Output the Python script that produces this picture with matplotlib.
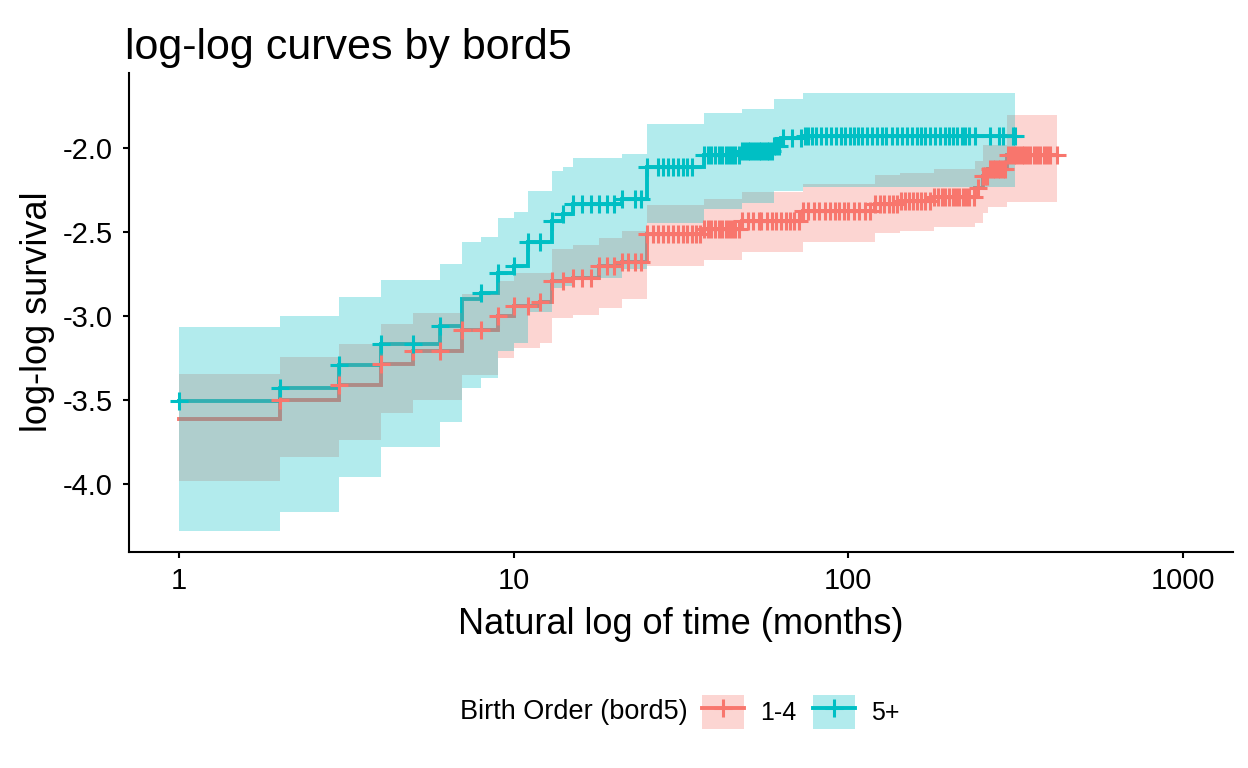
import matplotlib
matplotlib.use('Agg')
import matplotlib.pyplot as plt
import numpy as np
from matplotlib.patches import Patch
from matplotlib.lines import Line2D
from matplotlib.legend_handler import HandlerTuple

plt.rcParams['font.family'] = ['Liberation Sans', 'DejaVu Sans']
plt.rcParams['axes.unicode_minus'] = False

# ---------------- data ----------------
groups = ['1-4', '5+']
colors = ['#F8766D', '#00BFC4']

red_t = [1, 2, 3, 4, 5, 7, 9, 10, 12, 13, 15, 18, 21, 25, 37, 48, 73, 120, 143, 180, 240, 252, 262, 298]
red_est = [-3.613, -3.502, -3.409, -3.282, -3.210, -3.081, -2.998, -2.938, -2.915, -2.790, -2.770, -2.700,
           -2.680, -2.510, -2.478, -2.430, -2.373, -2.329, -2.313, -2.290, -2.234, -2.167, -2.125, -2.038]
red_lo = [-3.980, -3.837, -3.736, -3.577, -3.500, -3.349, -3.250, -3.190, -3.161, -3.008, -2.990, -2.950,
          -2.900, -2.700, -2.665, -2.620, -2.556, -2.502, -2.492, -2.468, -2.443, -2.383, -2.347, -2.319]
red_hi = [-3.345, -3.242, -3.167, -3.048, -2.982, -2.869, -2.790, -2.740, -2.740, -2.601, -2.577, -2.532,
          -2.492, -2.339, -2.304, -2.262, -2.210, -2.161, -2.145, -2.125, -2.075, -1.982, -1.982, -1.804]
red_end = 422
red_cens = [2, 3, 4, 5, 6, 7, 8, 9, 10, 11, 12, 13, 14, 15, 16, 17, 18, 19, 20, 21, 22, 23, 24, 25, 26,
            27, 28, 29, 30, 31, 32, 33, 34, 35, 36, 37, 38, 39, 40, 41, 42, 43, 44, 45, 46, 47, 48, 50,
            52, 54, 55, 57, 59, 61, 63, 65, 67, 69, 71, 73, 76, 79, 82, 85, 88, 91, 94, 97, 100, 104,
            108, 112, 116, 120, 124, 128, 132, 136, 140, 144, 148, 152, 156, 160, 165, 170, 175, 180,
            185, 190, 195, 200, 205, 210, 215, 220, 225, 230, 237, 245, 252, 256, 260, 265, 270, 275,
            280, 285, 290, 295, 300, 306, 312, 318, 324, 330, 336, 342, 350, 358, 366, 374, 384, 392,
            400, 420]

teal_t = [1, 2, 3, 4, 6, 7, 8, 9, 10, 11, 13, 14, 15, 21, 25, 37, 48, 60, 63, 73]
teal_est = [-3.508, -3.425, -3.290, -3.167, -3.058, -2.900, -2.860, -2.740, -2.700, -2.558, -2.433, -2.393,
            -2.333, -2.304, -2.109, -2.038, -2.016, -1.985, -1.940, -1.927]
teal_lo = [-4.278, -4.165, -3.956, -3.778, -3.629, -3.427, -3.369, -3.206, -3.161, -2.974, -2.830, -2.820,
           -2.770, -2.720, -2.443, -2.359, -2.327, -2.254, -2.254, -2.230]
teal_hi = [-3.064, -3.000, -2.887, -2.786, -2.690, -2.560, -2.526, -2.417, -2.379, -2.256, -2.137, -2.111,
           -2.060, -2.036, -1.857, -1.788, -1.764, -1.705, -1.705, -1.673]
teal_end = 315
teal_cens = [1, 2, 3, 4, 5, 6, 8, 9, 10, 11, 12, 13, 14, 15, 16, 17, 18, 19, 20, 21, 23, 24, 25, 27, 28,
             29, 30, 31, 32, 33, 34, 37, 38, 39, 40, 41, 42, 43, 44, 45, 46, 47, 48, 49, 50, 51, 52, 53,
             54, 55, 56, 57, 58, 59, 60, 61, 62, 64, 68, 72, 74, 76, 78, 80, 83, 86, 89, 92, 95, 98, 101,
             104, 107, 110, 114, 118, 122, 126, 130, 135, 140, 145, 150, 155, 160, 165, 170, 176, 182,
             188, 194, 200, 206, 212, 218, 224, 230, 240, 265, 282, 290, 311, 315]

x_ticks = [1, 10, 100, 1000]
x_ticklabels = ['1', '10', '100', '1000']
y_ticks = [-4.0, -3.5, -3.0, -2.5, -2.0]
y_ticklabels = ['-4.0', '-3.5', '-3.0', '-2.5', '-2.0']

# ---------------- figure ----------------
W, H = 1248, 768
fig = plt.figure(figsize=(W / 100, H / 100), dpi=100)
L, R, T, B = 129, 1233, 72.5, 552
ax = fig.add_axes([L / W, 1 - B / H, (R - L) / W, (B - T) / H])

series = [
    (red_t, red_est, red_lo, red_hi, red_end, red_cens, colors[0]),
    (teal_t, teal_est, teal_lo, teal_hi, teal_end, teal_cens, colors[1]),
]

lw = 2.8
ms = 13
mew = 2.2
# step lines (under ribbons)
for i, (t, est, lo, hi, end, cens, col) in enumerate(series):
    tt = list(t) + [end]
    ax.step(tt, list(est) + [est[-1]], where='post', color=col, lw=lw, zorder=1 + 0.1 * i,
            solid_joinstyle='miter')
# ribbons
for i, (t, est, lo, hi, end, cens, col) in enumerate(series):
    tt = list(t) + [end]
    ax.fill_between(tt, list(lo) + [lo[-1]], list(hi) + [hi[-1]], step='post', color=col,
                    alpha=0.3, lw=0, zorder=2 + 0.1 * i)
# censor marks
for i, (t, est, lo, hi, end, cens, col) in enumerate(series):
    idx = np.searchsorted(np.array(t), np.array(cens), side='right') - 1
    yv = np.array(est)[idx]
    ax.plot(cens, yv, ls='none', marker='+', ms=ms, mew=mew, color=col, zorder=3 + 0.1 * i)

ax.set_xscale('log')
ax.set_xlim(10 ** -0.15, 10 ** 3.15)
ax.set_ylim(-4.405, -1.548)
ax.set_xticks(x_ticks)
ax.set_xticklabels(x_ticklabels)
ax.xaxis.set_minor_locator(matplotlib.ticker.NullLocator())
ax.set_yticks(y_ticks)
ax.set_yticklabels(y_ticklabels)

for s in ['top', 'right']:
    ax.spines[s].set_visible(False)
for s in ['left', 'bottom']:
    ax.spines[s].set_linewidth(1.5)
    ax.spines[s].set_color('black')
ax.tick_params(axis='both', direction='out', length=4.5, width=1.5, colors='black',
               labelsize=21, labelcolor='black')
ax.tick_params(axis='y', pad=7)
ax.tick_params(axis='x', pad=6)

fig.text(125 / W, 1 - 59 / H, 'log-log curves by bord5', fontsize=31, ha='left', va='baseline')
fig.text((L + R) / 2 / W, 1 - 625 / H, 'Natural log of time (months)', fontsize=26,
         ha='center', va='center')
fig.text(38 / W, 1 - (T + B) / 2 / H, 'log-log survival', fontsize=26, rotation=90,
         ha='center', va='center')

# legend
fig.text(460 / W, 1 - 712 / H, 'Birth Order (bord5)', fontsize=19.5, ha='left', va='center')
handles = []
for col in colors:
    handles.append((Patch(facecolor=col, alpha=0.3, edgecolor='none'),
                    Line2D([], [], color=col, lw=lw, marker='+', ms=ms, mew=mew)))
fs_leg = 18
hl = 42 / (fs_leg / 0.72)
leg = fig.legend(handles, groups, loc='center left', bbox_to_anchor=(702 / W, 1 - 712 / H),
                 ncol=2, frameon=False, fontsize=fs_leg, handlelength=hl, handleheight=hl,
                 borderpad=0, borderaxespad=0, handletextpad=0.64, columnspacing=0.68,
                 numpoints=1, handler_map={tuple: HandlerTuple(ndivide=1, pad=0)})

fig.savefig('out.png', dpi=100)
